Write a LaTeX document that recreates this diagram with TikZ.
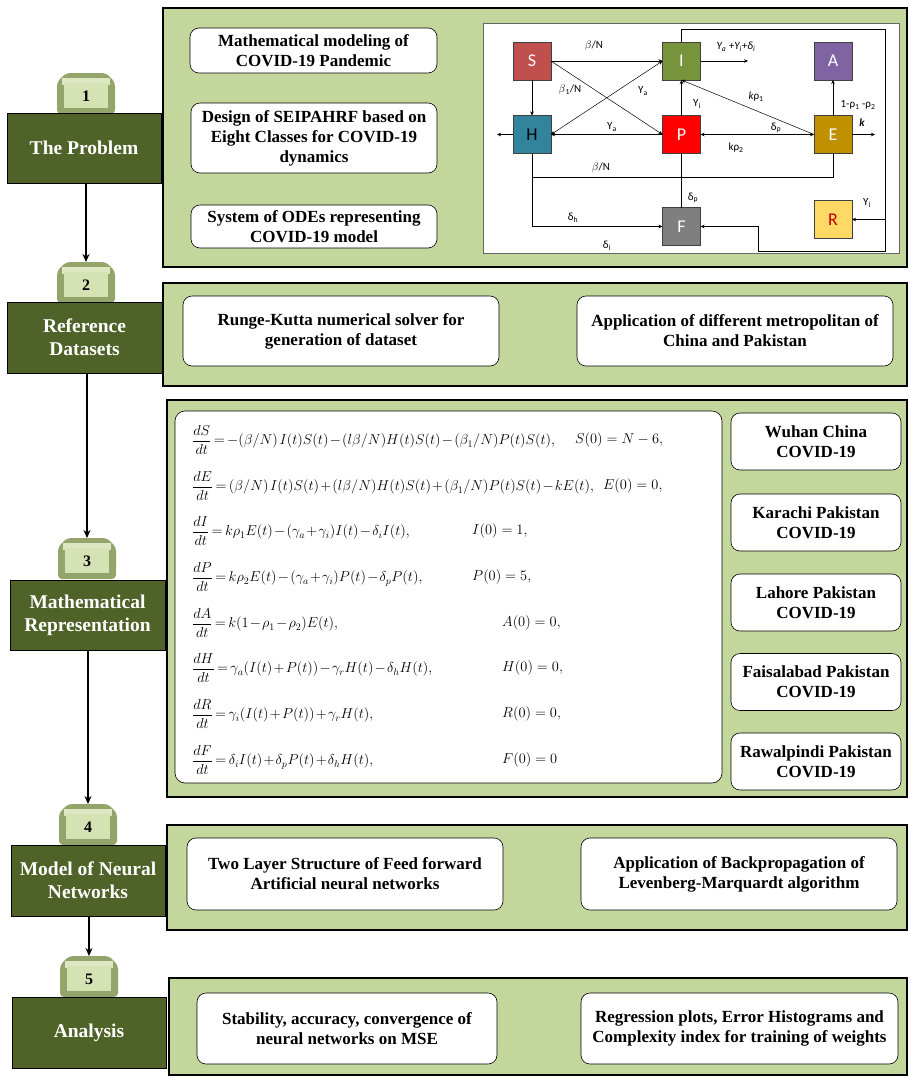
\documentclass[tikz,border=0pt]{standalone}
\usepackage{fontspec}
\setmainfont{Liberation Serif}
\newfontfamily\diagfont{Carlito}
\usepackage{amsmath}
\usetikzlibrary{arrows.meta,calc}
\definecolor{panelgreen}{HTML}{C3D69B}
\definecolor{darkolive}{HTML}{4F6228}
\definecolor{tabface}{HTML}{D5E2B4}
\definecolor{tabedge}{HTML}{93A56A}
\definecolor{cS}{HTML}{C0504D}
\definecolor{cI}{HTML}{77933C}
\definecolor{cA}{HTML}{8064A2}
\definecolor{cH}{HTML}{31849B}
\definecolor{cP}{HTML}{FF0000}
\definecolor{cE}{HTML}{BF9000}
\definecolor{cF}{HTML}{7F7F7F}
\definecolor{cR}{HTML}{FFD966}
\definecolor{cRtext}{HTML}{C00000}
\newcommand{\tightmath}{\thinmuskip=2mu\medmuskip=1.5mu plus 1mu\thickmuskip=3mu plus 1mu}
\tikzset{
  panel/.style={draw=black, line width=1.6pt, fill=panelgreen, inner sep=0pt, outer sep=0pt},
  stage/.style={draw=black, line width=0.8pt, fill=darkolive, text=white, align=center,
    font=\fontsize{19.5}{23}\selectfont\bfseries, inner sep=0pt, outer sep=0pt},
  wbox/.style={draw=black, line width=0.6pt, fill=white, rounded corners=9pt, align=center,
    font=\fontsize{17}{20}\selectfont\bfseries, inner sep=0pt, outer sep=0pt},
  comp/.style={draw=black!75, line width=0.5pt, minimum width=38pt, minimum height=38pt,
    font=\diagfont\fontsize{18}{18}\selectfont, text=white, inner sep=0pt, outer sep=0pt},
  flow/.style={-{Stealth[length=4pt,width=3.5pt]}, line width=0.5pt},
  flowboth/.style={{Stealth[length=4pt,width=3.5pt]}-{Stealth[length=4pt,width=3.5pt]}, line width=0.5pt},
  lbl/.style={font=\diagfont\fontsize{11}{12}\selectfont, inner sep=0pt},
  stagearrow/.style={-{Stealth[length=8pt,width=7pt]}, line width=1.1pt},
  eqn/.style={anchor=west, inner sep=0pt, font=\fontsize{14}{16}\selectfont\tightmath},
  initc/.style={anchor=west, inner sep=0pt, font=\fontsize{14}{16}\selectfont},
  keynum/.style={font=\fontsize{16}{16}\selectfont\bfseries, inner sep=0pt},
}
\newcommand{\keytab}[4]{%
  \fill[tabedge, rounded corners=4pt] (#2-29,#3+41) -- (#2-29,#3+9) -- (#2-20,#3) -- (#2+20,#3) -- (#2+29,#3+9) -- (#2+29,#3+41) -- cycle;
  \fill[tabface!80!white] (#2-24,#3+5) rectangle (#2+24,#3+12);
  \fill[tabface] (#2-22,#3+10) rectangle (#2+22,#3+35);
  \node[keynum] (#1) at (#2,#3+23) {#4};
}
\begin{document}
\begin{tikzpicture}[x=1pt,y=-1pt]
\useasboundingbox (0,0) rectangle (909,1077);

% ---------- right panels ----------
\node[panel, minimum width=744pt, minimum height=259pt] (p1) at (535,137.5) {};
\node[panel, minimum width=744pt, minimum height=103pt] (p2) at (535,334.5) {};
\node[panel, minimum width=740pt, minimum height=397pt] (p3) at (537,598.5) {};
\node[panel, minimum width=740pt, minimum height=105pt] (p4) at (537,877.5) {};
\node[panel, minimum width=738pt, minimum height=97pt] (p5) at (538,1026.5) {};

% ---------- left stages ----------
\keytab{k1}{86}{73}{1}
\keytab{k2}{86}{262}{2}
\keytab{k3}{87}{538}{3}
\keytab{k4}{88}{804}{4}
\keytab{k5}{89}{956}{5}
\node[stage, minimum width=154pt, minimum height=70pt] (s1) at (84,148) {The Problem};
\node[stage, minimum width=155pt, minimum height=71pt] (s2) at (84.5,337.5) {Reference\\Datasets};
\node[stage, minimum width=155pt, minimum height=70pt] (s3) at (87.5,615) {Mathematical\\Representation};
\node[stage, minimum width=154pt, minimum height=71pt] (s4) at (88,880.5) {Model of Neural\\Networks};
\node[stage, minimum width=154pt, minimum height=71pt] (s5) at (89,1032.5) {Analysis};

\draw[stagearrow] (s1.south -| k2) -- (k2.north |- 0,262);
\draw[stagearrow] (s2.south -| k3) -- (k3.north |- 0,538);
\draw[stagearrow] (s3.south -| k4) -- (k4.north |- 0,804);
\draw[stagearrow] (s4.south -| k5) -- (k5.north |- 0,956);

% ---------- panel 1 ----------
\node[wbox, minimum width=247pt, minimum height=45pt] (b11) at (313.5,50.5) {Mathematical modeling of\\COVID-19 Pandemic};
\node[wbox, minimum width=246pt, minimum height=70pt] (b12) at (314,138) {Design of SEIPAHRF based on\\Eight Classes for COVID-19\\dynamics};
\node[wbox, minimum width=246pt, minimum height=43pt] (b13) at (314,226.5) {System of ODEs representing\\COVID-19 model};

% compartment diagram
\node[draw=black!60, line width=0.6pt, fill=white, minimum width=416pt, minimum height=230pt, inner sep=0pt] (diag) at (691,138) {};
\node[comp, fill=cS] (S) at (532,61) {S};
\node[comp, fill=cI] (I) at (681.5,61) {I};
\node[comp, fill=cA] (A) at (833,61) {A};
\node[comp, fill=cH, text=black] (H) at (532,134.5) {H};
\node[comp, fill=cP] (P) at (681.5,134.5) {P};
\node[comp, fill=cE] (E) at (833,134.5) {E};
\node[comp, fill=cF] (F) at (681.5,226.5) {F};
\node[comp, fill=cR, text=cRtext] (R) at (833,219.5) {R};

\coordinate (hout) at (497,134.5);
\coordinate (iout) at (748,61);
\coordinate (eout) at (875,134.5);
\coordinate (hb) at (532,177);
\coordinate (pb) at (681.5,177);
\coordinate (itop) at (681.5,29);
\coordinate (tr) at (885,29);
\coordinate (rr) at (885,219.5);
\coordinate (br) at (885,251);
\coordinate (bl) at (758,251);
\coordinate (fl) at (758,226.5);

\draw[flow] (S) -- (I);
\draw[flow] (S.east) -- (P.west);
\draw[flowboth] (I.west) -- (H.east);
\draw[flow] (P.west) -- (H.east);
\draw[flow] (S) -- (H);
\draw[flow] (H.west) -- (hout);
\draw[flow] (P) -- (I);
\draw[flow] (I.east) -- (iout);
\draw[flow] (E.west) -- (I.south);
\draw[flowboth] (P.east) -- (E.west);
\draw[flow] (E) -- (A);
\draw[flow] (E.east) -- (eout);
\draw[line width=0.5pt] (H.south) -- (hb) -| (E.south);
\draw[line width=0.5pt] (P.south) -- (F.north);
\fill (pb) circle (0.9pt);
\draw[flow] (H.south) |- (F.west);
\draw[flow] (I.north) -- (itop) -- (tr) -- (rr) -- (R.east);
\draw[flow] (rr) -- (br) -- (bl) -- (fl) -- (F.east);

\node[lbl] (l1) at (594,46) {$\beta$/N};
\node[lbl] (l2) at (570,90) {$\beta$\textsubscript{1}/N};
\node[lbl] (l3) at (643,91) {Υ\textsubscript{a}};
\node[lbl] (l4) at (612,127) {Υ\textsubscript{a}};
\node[lbl] (l5) at (697,104) {Υ\textsubscript{i}};
\node[lbl] (l6) at (736,47) {\itshape Υ\textsubscript{a} +Υ\textsubscript{i}+δ\textsubscript{i}};
\node[lbl] (l7) at (756,97) {\itshape k\upshape ρ\textsubscript{1}};
\node[lbl] (l8) at (776,128) {δ\textsubscript{p}};
\node[lbl] (l9) at (736,148) {kρ\textsubscript{2}};
\node[lbl] (l10) at (858,105) {1-ρ\textsubscript{1} -ρ\textsubscript{2}};
\node[lbl] (l11) at (862,123) {\bfseries\itshape k};
\node[lbl] (l12) at (601,168) {$\beta$/N};
\node[lbl] (l13) at (693,198) {δ\textsubscript{p}};
\node[lbl] (l14) at (573,218) {δ\textsubscript{h}};
\node[lbl] (l15) at (607,246) {δ\textsubscript{i}};
\node[lbl] (l16) at (867,203) {Υ\textsubscript{i}};

% ---------- panel 2 ----------
\node[wbox, minimum width=316pt, minimum height=70pt] (b21) at (341,331) {Runge-Kutta numerical solver for\\generation of dataset};
\node[wbox, minimum width=316pt, minimum height=70pt] (b22) at (735,331) {Application of different metropolitan of\\China and Pakistan};

% ---------- panel 3 ----------
\node[draw=black, line width=0.6pt, fill=white, rounded corners=10pt, minimum width=547pt, minimum height=372pt, inner sep=0pt] (eqbox) at (448.5,597) {};
\node[eqn] (e1) at (192,440) {$\dfrac{dS}{dt}=-(\beta/N)\,I(t)S(t)-(l\beta/N)H(t)S(t)-(\beta_1/N)P(t)S(t),$};
\node[initc] (c1) at (575,440) {$S(0)=N-6,$};
\node[eqn] (e2) at (192,486) {$\dfrac{dE}{dt}=(\beta/N)\,I(t)S(t)+(l\beta/N)H(t)S(t)+(\beta_1/N)P(t)S(t)-kE(t),$};
\node[initc] (c2) at (603,486) {$E(0)=0,$};
\node[eqn] (e3) at (192,531) {$\dfrac{dI}{dt}=k\rho_1E(t)-(\gamma_a+\gamma_i)I(t)-\delta_iI(t),$};
\node[initc] (c3) at (472,531) {$I(0)=1,$};
\node[eqn] (e4) at (192,577) {$\dfrac{dP}{dt}=k\rho_2E(t)-(\gamma_a+\gamma_i)P(t)-\delta_pP(t),$};
\node[initc] (c4) at (472,577) {$P(0)=5,$};
\node[eqn] (e5) at (192,623) {$\dfrac{dA}{dt}=k(1-\rho_1-\rho_2)E(t),$};
\node[initc] (c5) at (502,623) {$A(0)=0,$};
\node[eqn] (e6) at (192,668) {$\dfrac{dH}{dt}=\gamma_a(I(t)+P(t))-\gamma_rH(t)-\delta_hH(t),$};
\node[initc] (c6) at (502,668) {$H(0)=0,$};
\node[eqn] (e7) at (192,714) {$\dfrac{dR}{dt}=\gamma_i(I(t)+P(t))+\gamma_rH(t),$};
\node[initc] (c7) at (502,714) {$R(0)=0,$};
\node[eqn] (e8) at (192,760) {$\dfrac{dF}{dt}=\delta_iI(t)+\delta_pP(t)+\delta_hH(t),$};
\node[initc] (c8) at (502,760) {$F(0)=0$};

\node[wbox, minimum width=170pt, minimum height=57pt] (city1) at (816,441.5) {Wuhan China\\COVID-19};
\node[wbox, minimum width=170pt, minimum height=57pt] (city2) at (816,522.5) {Karachi Pakistan\\COVID-19};
\node[wbox, minimum width=170pt, minimum height=57pt] (city3) at (816,602.5) {Lahore Pakistan\\COVID-19};
\node[wbox, minimum width=170pt, minimum height=57pt] (city4) at (816,682) {Faisalabad Pakistan\\COVID-19};
\node[wbox, minimum width=170pt, minimum height=57pt] (city5) at (816,761.5) {Rawalpindi Pakistan\\COVID-19};

% ---------- panel 4 ----------
\node[wbox, minimum width=316pt, minimum height=72pt] (b41) at (345,874) {Two Layer Structure of Feed forward\\Artificial neural networks};
\node[wbox, minimum width=316pt, minimum height=72pt] (b42) at (739,874) {Application of Backpropagation of\\Levenberg-Marquardt algorithm};

% ---------- panel 5 ----------
\node[wbox, minimum width=300pt, minimum height=71pt] (b51) at (347,1028.5) {Stability, accuracy, convergence of\\neural networks on MSE};
\node[wbox, minimum width=317pt, minimum height=71pt] (b52) at (739.5,1028.5) {Regression plots, Error Histograms and\\Complexity index for training of weights};
\end{tikzpicture}
\end{document}
